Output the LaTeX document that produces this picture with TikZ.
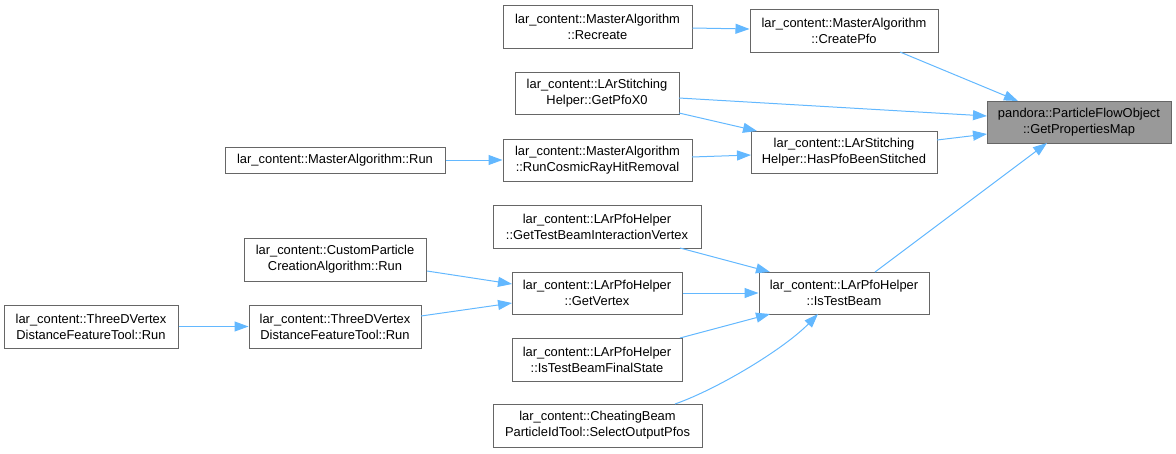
\documentclass[tikz,border=0pt]{standalone}
\usepackage{fontspec}
\setmainfont{Liberation Sans}
\usetikzlibrary{arrows.meta}
\definecolor{edgeblue}{HTML}{63B8FF}
\definecolor{boxgray}{HTML}{666666}
\definecolor{hlgray}{HTML}{999999}
\tikzset{
  fn/.style={draw=boxgray, line width=1pt, fill=white, rectangle, inner sep=0pt,
    align=center, font=\fontsize{12.9}{16}\selectfont},
  hl/.style={fn, fill=hlgray},
  call/.style={draw=edgeblue, line width=1pt, -{Triangle[length=14pt,width=10pt]}, color=edgeblue},
}
\begin{document}
\begin{tikzpicture}[x=1pt,y=-1pt]
\useasboundingbox (0,0) rectangle (1176,453);
\node[hl, minimum width=184pt, minimum height=42pt] (gpm) at (1079,122) {pandora::ParticleFlowObject\\::GetPropertiesMap};
\node[fn, minimum width=188pt, minimum height=43pt] (cpfo) at (844,30.5) {lar\_content::MasterAlgorithm\\::CreatePfo};
\node[fn, minimum width=189pt, minimum height=43pt] (recr) at (597.5,26.5) {lar\_content::MasterAlgorithm\\::Recreate};
\node[fn, minimum width=164pt, minimum height=42pt] (px0) at (597,93) {lar\_content::LArStitching\\Helper::GetPfoX0};
\node[fn, minimum width=186pt, minimum height=42pt] (hpbs) at (844,152) {lar\_content::LArStitching\\Helper::HasPfoBeenStitched};
\node[fn, minimum width=189pt, minimum height=42pt] (rcr) at (597.5,160) {lar\_content::MasterAlgorithm\\::RunCosmicRayHitRemoval};
\node[fn, minimum width=220pt, minimum height=26pt] (marun) at (335,160) {lar\_content::MasterAlgorithm::Run};
\node[fn, minimum width=208pt, minimum height=43pt] (gtbiv) at (597,226.5) {lar\_content::LArPfoHelper\\::GetTestBeamInteractionVertex};
\node[fn, minimum width=170pt, minimum height=42pt] (gv) at (597,293) {lar\_content::LArPfoHelper\\::GetVertex};
\node[fn, minimum width=170pt, minimum height=42pt] (itb) at (844,293) {lar\_content::LArPfoHelper\\::IsTestBeam};
\node[fn, minimum width=170pt, minimum height=43pt] (itbfs) at (597,359.5) {lar\_content::LArPfoHelper\\::IsTestBeamFinalState};
\node[fn, minimum width=209pt, minimum height=43pt] (cheat) at (597.5,425.5) {lar\_content::CheatingBeam\\ParticleIdTool::SelectOutputPfos};
\node[fn, minimum width=182pt, minimum height=43pt] (cust) at (335,259.5) {lar\_content::CustomParticle\\CreationAlgorithm::Run};
\node[fn, minimum width=172pt, minimum height=43pt] (tdvr) at (335,326.5) {lar\_content::ThreeDVertex\\DistanceFeatureTool::Run};
\node[fn, minimum width=174pt, minimum height=43pt] (tdvl) at (91,326.5) {lar\_content::ThreeDVertex\\DistanceFeatureTool::Run};

\coordinate (cpfoS) at (900,52);
\coordinate (gpmA) at (1018,101);
\coordinate (px0E1) at (679,98);
\coordinate (gpmB) at (987,116);
\coordinate (px0E2) at (679,113);
\coordinate (hpbsA) at (757,131);
\coordinate (hpbsE) at (937,140);
\coordinate (gpmC) at (987,134);
\coordinate (itbN) at (875,272);
\coordinate (gpmD) at (1047,143);
\coordinate (rcrE) at (692,157);
\coordinate (hpbsW) at (751,155);
\coordinate (gtbivS) at (680,248);
\coordinate (itbA) at (770,272);
\coordinate (itbfsN) at (680,338);
\coordinate (itbB) at (770,314);
\coordinate (cheatN) at (675,404);
\coordinate (itbC) at (818,314);
\coordinate (custE) at (427,271);
\coordinate (gvA) at (512,284);
\coordinate (tdvrE) at (421,316);
\coordinate (gvB) at (512,303);

\draw[call] (recr.east |- 0,28) -- (cpfo.west |- 0,29);
\draw[call] (cpfoS) -- (gpmA);
\draw[call] (px0E1) -- (gpmB);
\draw[call] (px0E2) -- (hpbsA);
\draw[call] (rcrE) -- (hpbsW);
\draw[call] (marun.east) -- (rcr.west);
\draw[call] (hpbsE) -- (gpmC);
\draw[call] (itbN) -- (gpmD);
\draw[call] (gtbivS) -- (itbA);
\draw[call] (gv.east) -- (itb.west);
\draw[call] (itbfsN) -- (itbB);
\draw[call] (cheatN) .. controls (720,388) and (785,348) .. (itbC);
\draw[call] (custE) -- (gvA);
\draw[call] (tdvrE) -- (gvB);
\draw[call] (tdvl.east) -- (tdvr.west);
\end{tikzpicture}
\end{document}
